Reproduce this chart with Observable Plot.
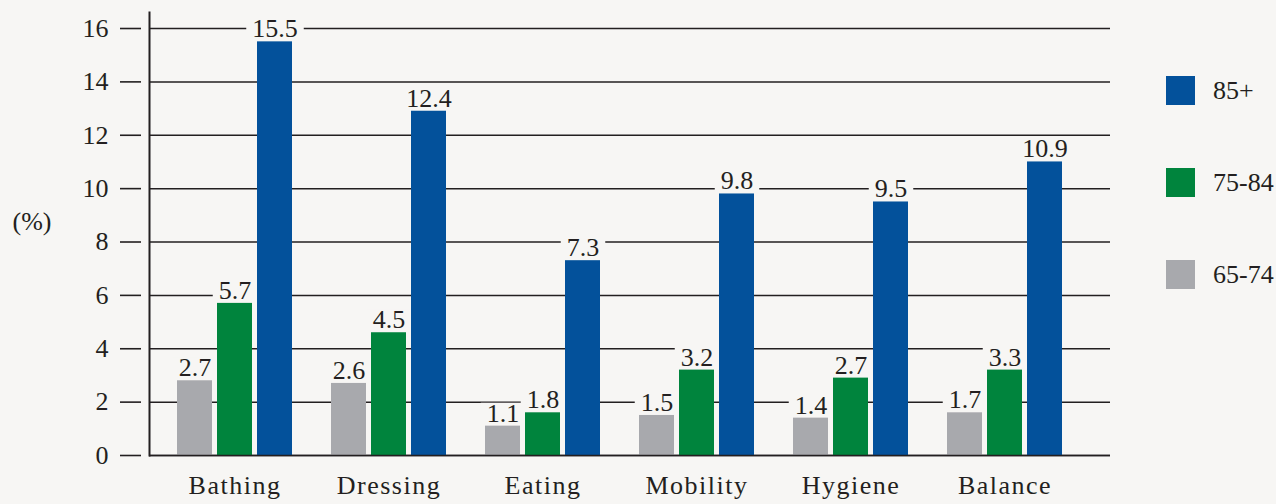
<!DOCTYPE html>
<html>
<head>
<meta charset="utf-8">
<script src="https://cdn.jsdelivr.net/npm/d3@7"></script>
<script src="https://cdn.jsdelivr.net/npm/@observablehq/plot@0.6"></script>
<style>
  html, body { margin: 0; padding: 0; background: #f7f6f4; }
  #wrap { position: relative; width: 1276px; height: 504px; overflow: hidden; }
  #wrap svg { position: absolute; left: 0; top: 0; }
  #wrap svg, #wrap svg text { font-family: "Liberation Serif", "Times New Roman", serif; }
  #wrap svg g[aria-label="x-axis tick label"] text { letter-spacing: 1.5px; }
  #legend { position: absolute; left: 1166px; top: 76px; font-family: "Liberation Serif", "Times New Roman", serif; font-size: 26px; color: #231f20; }
  .item { display: flex; align-items: center; height: 29px; margin-bottom: 63px; }
  .sw { width: 29px; height: 29px; margin-right: 18px; }
</style>
</head>
<body>
<div id="wrap"><div id="legend"></div></div>
<script>
const categories = ["Bathing", "Dressing", "Eating", "Mobility", "Hygiene", "Balance"];
const series = ["65-74", "75-84", "85+"];
const seriesColors = ["#a8a9ad", "#00843d", "#03519b"];
// printed value labels
const labels6574 = [2.7, 2.6, 1.1, 1.5, 1.4, 1.7];
const labels7584 = [5.7, 4.5, 1.8, 3.2, 2.7, 3.3];
const labels85 = [15.5, 12.4, 7.3, 9.8, 9.5, 10.9];
// bar heights as drawn in the picture
const bars6574 = [2.8, 2.7, 1.1, 1.5, 1.4, 1.6];
const bars7584 = [5.7, 4.6, 1.6, 3.2, 2.9, 3.2];
const bars85 = [15.5, 12.9, 7.3, 9.8, 9.5, 11.0];
const yTicks = [0, 2, 4, 6, 8, 10, 12, 14, 16];
const yUnit = "(%)";

const barSets = [bars6574, bars7584, bars85];
const labelSets = [labels6574, labels7584, labels85];
const rows = [];
series.forEach((s, i) => categories.forEach((c, j) => rows.push({category: c, series: s, value: barSets[i][j], label: labelSets[i][j]})));

const bg = "#f7f6f4";
const ink = "#231f20";
const fontSize = 26;

const marks = [
  Plot.ruleY(yTicks, {stroke: ink, strokeWidth: 1.5})
];
series.forEach((s, i) => {
  const data = rows.filter(d => d.series === s);
  marks.push(Plot.barY(data, {x: "category", y: "value", fill: seriesColors[i], insetLeft: i * 40, insetRight: (2 - i) * 40}));
});
marks.push(Plot.ruleY([0], {stroke: ink, strokeWidth: 1.5}));
series.forEach((s, i) => {
  const data = rows.filter(d => d.series === s);
  marks.push(Plot.text(data, {x: "category", y: "value", text: d => d.label.toFixed(1), dx: (i - 1) * 40, dy: -4.5, lineAnchor: "bottom", fontSize, fill: ink}));
});
marks.push(Plot.frame({anchor: "left", stroke: ink, strokeWidth: 2}));
marks.push(Plot.axisY(yTicks, {tickSize: 21, tickPadding: 12, dx: -8, fontSize, stroke: ink, strokeWidth: 1.6, fill: ink}));
marks.push(Plot.axisX({tickSize: 0, tickPadding: 20, fontSize, fill: ink}));
marks.push(Plot.text([yUnit], {frameAnchor: "left", dx: -137, dy: -12, textAnchor: "start", fontSize, fill: ink}));

const chart = Plot.plot({
  width: 1276,
  height: 504,
  marginLeft: 149,
  marginRight: 166,
  marginTop: 12,
  marginBottom: 49,
  style: {background: bg, fontFamily: "'Liberation Serif', serif", fontSize: "26px", color: ink},
  x: {type: "band", domain: categories, range: [175, 1063], paddingInner: 0.256, paddingOuter: 0, label: null},
  y: {domain: [0, 16.6], label: null},
  marks
});
const wrap = document.getElementById("wrap");
wrap.insertBefore(chart, wrap.firstChild);

const legend = document.getElementById("legend");
series.slice().reverse().forEach((s) => {
  const i = series.indexOf(s);
  const it = document.createElement("div");
  it.className = "item";
  it.innerHTML = `<div class="sw" style="background:${seriesColors[i]}"></div><span>${s}</span>`;
  legend.appendChild(it);
});

// background boxes behind value labels, breaking the gridlines (placed under the bars)
try {
  const grid = chart.querySelector('g[aria-label="rule"]');
  const labelGroups = Array.from(chart.querySelectorAll('g[aria-label="text"]')).slice(0, 3);
  const svgRect = chart.getBoundingClientRect();
  const boxes = document.createElementNS("http://www.w3.org/2000/svg", "g");
  labelGroups.forEach(g => g.querySelectorAll("text").forEach(t => {
    const b = t.getBoundingClientRect();
    const r = document.createElementNS("http://www.w3.org/2000/svg", "rect");
    r.setAttribute("x", b.left - svgRect.left - 6);
    r.setAttribute("width", b.width + 12);
    r.setAttribute("y", b.top - svgRect.top + b.height * 0.14);
    r.setAttribute("height", b.height * 0.8);
    r.setAttribute("fill", bg);
    boxes.appendChild(r);
  }));
  if (grid) grid.after(boxes);
} catch (e) {}
</script>
</body>
</html>
